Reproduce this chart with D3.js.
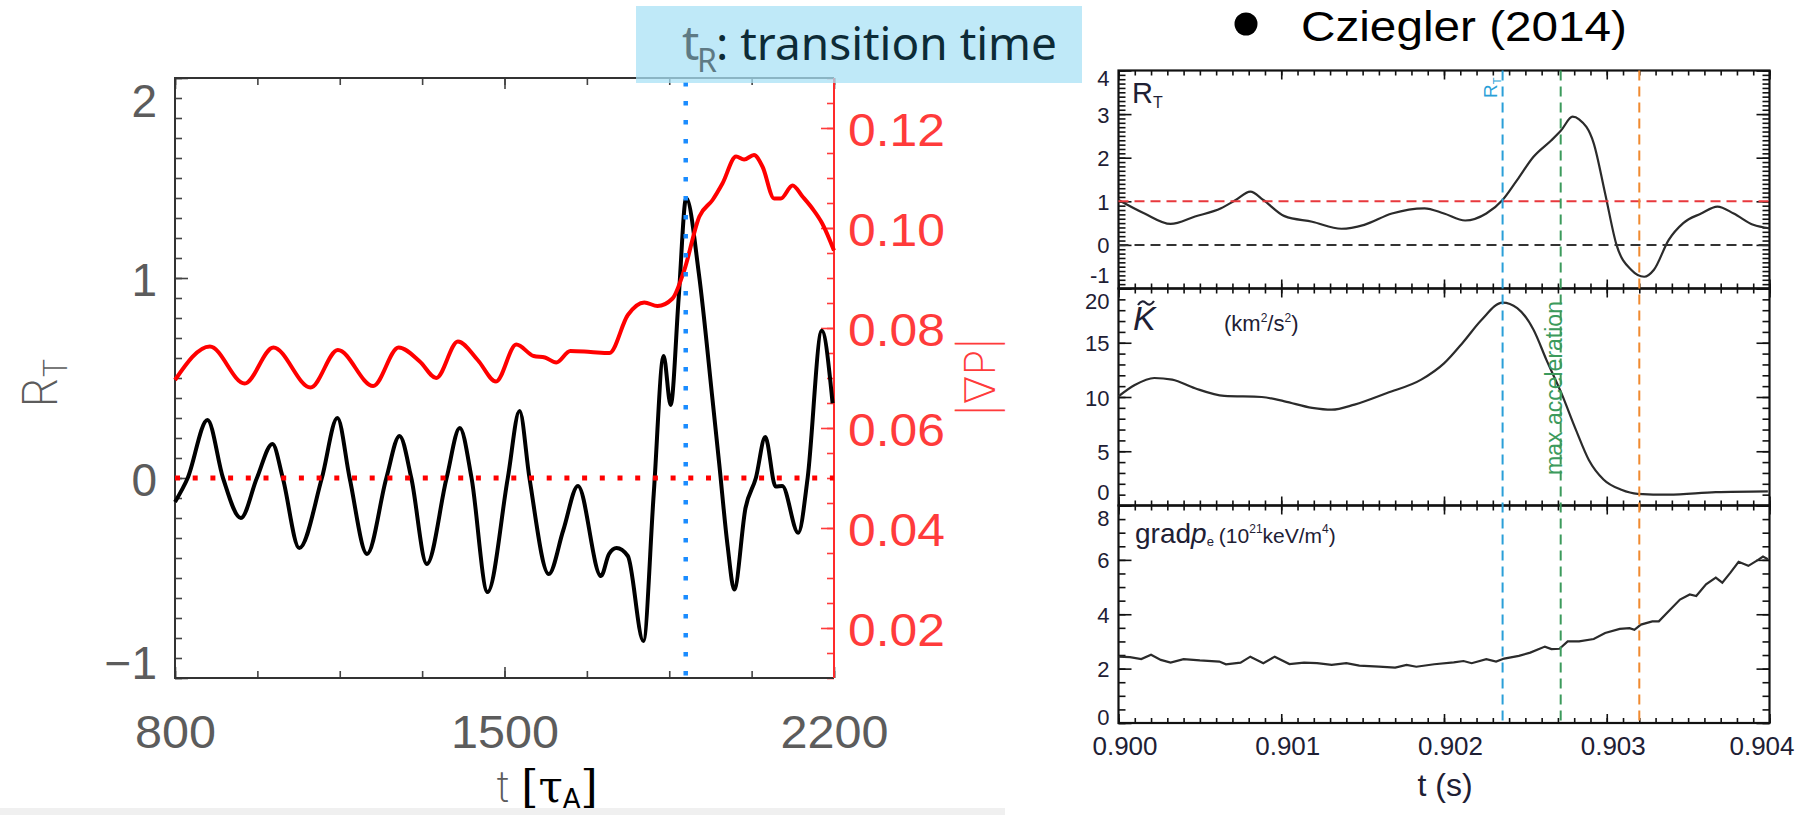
<!DOCTYPE html>
<html>
<head>
<meta charset="utf-8">
<script src="https://cdn.jsdelivr.net/npm/d3@7"></script>
<style>
body { margin: 0; background: #fff; }
svg { display: block; }
</style>
</head>
<body>
<svg id="fig" width="1795" height="815"></svg>
<script>
// Panel izquierdo: R_T (eje izquierdo) y |grad P| (eje derecho, rojo) frente a t [tau_A]
var tauRT = [800, 827, 869, 902, 940, 974, 1007, 1029, 1064, 1112, 1145, 1171, 1208, 1249, 1277, 1302, 1335, 1377, 1405, 1430,
	1464, 1507, 1532, 1553, 1594, 1625, 1656, 1705, 1722, 1738, 1762, 1795, 1817, 1838, 1853, 1870, 1886, 1913, 1942, 1956,
	1974, 1988, 2012, 2034, 2054, 2076, 2090, 2124, 2144, 2174, 2197];
var valRT = [-0.12, 0.0, 0.29, 0.0, -0.20, 0.0, 0.17, 0.0, -0.35, 0.0, 0.30, 0.0, -0.38, 0.0, 0.21, 0.0, -0.43, 0.0, 0.25, 0.0,
	-0.57, 0.0, 0.335, 0.0, -0.48, -0.26, -0.04, -0.49, -0.38, -0.35, -0.39, -0.815, -0.08, 0.61, 0.365, 0.90, 1.40, 1.02, 0.39, 0.075,
	-0.34, -0.557, -0.15, 0.0, 0.205, -0.043, -0.04, -0.274, 0.0, 0.736, 0.374];

var tauGP = [800, 874, 948, 1009, 1088, 1146, 1221, 1275, 1320, 1355, 1401, 1443, 1482, 1525, 1562, 1586, 1610, 1640, 1683, 1723,
	1762, 1797, 1825, 1857, 1882, 1914, 1942, 1963, 1992, 2009, 2030, 2048, 2073, 2087, 2112, 2133, 2154, 2175, 2200];
var valGP = [0.0696, 0.0763, 0.0689, 0.0761, 0.0681, 0.0756, 0.0684, 0.0761, 0.0733, 0.0700, 0.0773, 0.0736, 0.0693, 0.0767, 0.0744, 0.0741, 0.0731, 0.0754, 0.0752, 0.0750,
	0.0826, 0.0851, 0.0844, 0.0859, 0.0916, 0.1023, 0.1056, 0.1089, 0.1143, 0.1137, 0.1146, 0.1123, 0.1059, 0.1059, 0.1085, 0.1063, 0.1039, 0.1009, 0.0955];

var tauTicks = [800, 1500, 2200];
var rtTicks = [-1, 0, 1, 2];
var gpTicks = [0.02, 0.04, 0.06, 0.08, 0.10, 0.12];
var tR = 1885;

// Panel derecho: Cziegler (2014)
var czT1 = [0.90000, 0.90016, 0.90032, 0.90047, 0.90063, 0.90072, 0.90081, 0.90089, 0.90102, 0.90119, 0.90137, 0.90151, 0.90168,
	0.90188, 0.90200, 0.90213, 0.90226, 0.90236, 0.90245, 0.90255, 0.90266, 0.90272, 0.90279, 0.90283, 0.90292, 0.90299, 0.90306,
	0.90315, 0.90323, 0.90329, 0.90338, 0.90347, 0.90358, 0.90368, 0.90378, 0.90390, 0.90400];
var czRT = [1.03, 0.72, 0.48, 0.65, 0.84, 1.03, 1.22, 1.03, 0.66, 0.53, 0.37, 0.46, 0.72,
	0.84, 0.72, 0.56, 0.72, 1.03, 1.49, 2.02, 2.40, 2.63, 2.94, 2.88, 2.33, 1.18, 0.0,
	-0.57, -0.73, -0.57, 0.11, 0.50, 0.72, 0.88, 0.72, 0.46, 0.38];

var czT2 = [0.90000, 0.90010, 0.90022, 0.90033, 0.90047, 0.90065, 0.90088, 0.90102, 0.90119, 0.90131, 0.90145, 0.90165, 0.90186,
	0.90200, 0.90212, 0.90223, 0.90236, 0.90245, 0.90255, 0.90263, 0.90272, 0.90281, 0.90289, 0.90298, 0.90309, 0.90319, 0.90338,
	0.90367, 0.90399];
var czK = [10.06, 11.1, 11.75, 11.6, 10.8, 10.1, 10.0, 9.6, 9.0, 8.83, 9.3, 10.37, 11.6,
	13.1, 15.1, 17.1, 18.7, 18.2, 16.2, 13.4, 10.4, 7.0, 4.2, 2.4, 1.45, 1.08, 1.0,
	1.23, 1.3];

var czT3 = [0.90000, 0.90007, 0.90014, 0.90020, 0.90026, 0.90032, 0.90040, 0.90050, 0.90062, 0.90066, 0.90075, 0.90081, 0.90089,
	0.90096, 0.90105, 0.90114, 0.90122, 0.90131, 0.90140, 0.90148, 0.90160, 0.90170, 0.90177, 0.90183, 0.90194, 0.90206, 0.90212,
	0.90217, 0.90226, 0.90232, 0.90237, 0.90246, 0.90253, 0.90262, 0.90266, 0.90271, 0.90276, 0.90283, 0.90292, 0.90299, 0.90308,
	0.90314, 0.90317, 0.90321, 0.90328, 0.90332, 0.90338, 0.90345, 0.90351, 0.90355, 0.90361, 0.90367, 0.90371, 0.90376, 0.90381,
	0.90387, 0.90393, 0.90396, 0.90399];
var czGrad = [2.44, 2.42, 2.35, 2.51, 2.32, 2.22, 2.35, 2.30, 2.26, 2.16, 2.22, 2.44, 2.20,
	2.44, 2.17, 2.22, 2.20, 2.14, 2.20, 2.11, 2.07, 2.04, 2.14, 2.07, 2.16, 2.23, 2.28,
	2.20, 2.35, 2.26, 2.37, 2.47, 2.59, 2.81, 2.72, 2.73, 3.00, 3.00, 3.09, 3.31, 3.46,
	3.49, 3.43, 3.62, 3.74, 3.74, 4.11, 4.54, 4.73, 4.67, 5.10, 5.35, 5.16, 5.53, 5.93,
	5.78, 6.00, 6.12, 6.02];

var czTicks = [0.900, 0.901, 0.902, 0.903, 0.904];
var czMarks = [0.90236, 0.902717, 0.90320];   // R_T, max acceleration, y la naranja

var svg = d3.select("#fig");

// quita la línea del eje, el marco se dibuja aparte
function drawAxis(g, axis) {
	g.call(axis);
	g.select(".domain").remove();
	return g;
}

// franja gris inferior (va debajo del título del eje)
svg.append("rect").attr("x", 0).attr("y", 808).attr("width", 1005).attr("height", 7).attr("fill", "#f0f0f0");

// ================= panel izquierdo =================
var x = d3.scaleLinear().domain([800, 2200]).range([175, 834]);
var yL = d3.scaleLinear().domain([-1, 2]).range([678, 78]);
var yR = d3.scaleLinear().domain([0.01, 0.13]).range([678, 78]);

var left = svg.append("g")
	.attr("font-family", "Inter, DejaVu Sans, sans-serif")
	.attr("font-weight", 200);

var gray = "#5c5c5c";
var red = "#ff3b3b";

// eje izquierdo R_T
drawAxis(left.append("g").attr("transform", "translate(175,0)"),
	d3.axisLeft(yL).tickValues(d3.range(-1, 2.001, 0.1)).tickSizeInner(-7).tickSizeOuter(0).tickFormat(""));
var gl = drawAxis(left.append("g").attr("transform", "translate(175,0)"),
	d3.axisLeft(yL).tickValues(rtTicks).tickSizeInner(-13).tickSizeOuter(0).tickPadding(18).tickFormat(d3.format("d")));
gl.selectAll("text")
	.attr("font-size", 46)
	.attr("fill", gray)
	.attr("y", function(d) { return d == 2 ? 24 : (d == -1 ? -14 : 3); });

// eje derecho |grad P|
var gr1 = drawAxis(left.append("g").attr("transform", "translate(834,0)"),
	d3.axisRight(yR).tickValues(d3.range(0.01, 0.1301, 0.005)).tickSizeInner(-7).tickSizeOuter(0).tickFormat(""));
var gr = drawAxis(left.append("g").attr("transform", "translate(834,0)"),
	d3.axisRight(yR).tickValues(gpTicks).tickSizeInner(-13).tickSizeOuter(0).tickPadding(14).tickFormat(d3.format(".2f")));
gr.selectAll("text")
	.attr("font-size", 46)
	.attr("fill", red)
	.attr("y", 3)
	.attr("textLength", 97)
	.attr("lengthAdjust", "spacingAndGlyphs");

// ejes superior e inferior
[[78, d3.axisTop], [678, d3.axisBottom]].forEach(function(a) {
	drawAxis(left.append("g").attr("transform", "translate(0," + a[0] + ")"),
		a[1](x).tickValues(d3.range(800, 2201, 175)).tickSizeInner(-7).tickSizeOuter(0).tickFormat(""));
	drawAxis(left.append("g").attr("transform", "translate(0," + a[0] + ")"),
		a[1](x).tickValues(tauTicks).tickSizeInner(-11).tickSizeOuter(0).tickFormat(""));
});
var gb = drawAxis(left.append("g").attr("transform", "translate(0,678)"),
	d3.axisBottom(x).tickValues(tauTicks).tickSize(0).tickFormat(d3.format("d")));
gb.selectAll("text")
	.attr("font-size", 46)
	.attr("fill", gray)
	.attr("y", 70)
	.attr("dy", 0)
	.attr("textLength", function(d) { return String(d).length * 27; })
	.attr("lengthAdjust", "spacingAndGlyphs");

left.selectAll(".tick line").attr("stroke", "#444").attr("stroke-width", 1.6);
gr.selectAll(".tick line").attr("stroke", red);
gr1.selectAll(".tick line").attr("stroke", red);

// marco
left.append("path")
	.attr("d", "M834,78 H175 V678 H834")
	.attr("fill", "none").attr("stroke", "#333").attr("stroke-width", 2);
left.append("line")
	.attr("x1", 834).attr("x2", 834).attr("y1", 78).attr("y2", 678)
	.attr("stroke", "#ff2a2a").attr("stroke-width", 2);

// curvas
var lineRT = d3.line()
	.x(function(d, i) { return x(tauRT[i]); })
	.y(function(d) { return yL(d); })
	.curve(d3.curveMonotoneX);
left.append("path").attr("d", lineRT(valRT))
	.attr("fill", "none").attr("stroke", "#000").attr("stroke-width", 4);

var lineGP = d3.line()
	.x(function(d, i) { return x(tauGP[i]); })
	.y(function(d) { return yR(d); })
	.curve(d3.curveMonotoneX);
left.append("path").attr("d", lineGP(valGP))
	.attr("fill", "none").attr("stroke", "#ff0000").attr("stroke-width", 4);

// líneas punteadas: R_T = 0 y t_R
left.append("line")
	.attr("x1", x(800)).attr("x2", x(2200)).attr("y1", yL(0)).attr("y2", yL(0))
	.attr("stroke", "#ff0000").attr("stroke-width", 5).attr("stroke-dasharray", "5,12.7");
left.append("line")
	.attr("x1", x(tR)).attr("x2", x(tR)).attr("y1", yL(2) + 4).attr("y2", yL(-1))
	.attr("stroke", "#1a8cff").attr("stroke-width", 4.5).attr("stroke-dasharray", "4.5,14.5");

// títulos de ejes
left.append("text")
	.attr("transform", "translate(57,383) rotate(-90)")
	.attr("text-anchor", "middle")
	.attr("font-size", 48).attr("fill", gray)
	.html('R<tspan font-size="32" dy="10">T</tspan>');

left.append("text")
	.attr("transform", "translate(995,377) rotate(-90)")
	.attr("text-anchor", "middle")
	.attr("font-size", 42).attr("fill", red)
	.text("|\u2207P|");

var xt = left.append("text").attr("x", 497).attr("y", 802).attr("font-size", 44);
xt.append("tspan").attr("fill", gray).text("t ");
xt.append("tspan").attr("fill", "#000").attr("font-weight", 400).attr("font-family", "DejaVu Serif").text("[\u03c4");
xt.append("tspan").attr("fill", "#000").attr("font-weight", 400).attr("font-family", "DejaVu Sans").attr("font-size", 26).attr("dy", 6).text("A");
xt.append("tspan").attr("fill", "#000").attr("font-weight", 400).attr("font-family", "DejaVu Serif").attr("dy", -6).text("]");

// recuadro t_R
svg.append("rect")
	.attr("x", 636).attr("y", 6).attr("width", 446).attr("height", 77)
	.attr("fill", "#a9e1f6").attr("opacity", 0.75);
var box = svg.append("g").attr("font-family", "Noto Sans");
box.append("text").attr("x", 682).attr("y", 60).attr("font-size", 48).attr("fill", "#5e7a84").text("t");
box.append("text").attr("x", 697).attr("y", 72).attr("font-size", 32).attr("fill", "#5e7a84").text("R");
box.append("text").attr("x", 716).attr("y", 60).attr("font-size", 46).attr("fill", "#0d2b36")
	.attr("textLength", 341).attr("lengthAdjust", "spacingAndGlyphs").text(": transition time");

// ================= panel derecho =================
var xc = d3.scaleLinear().domain([0.900, 0.904]).range([1118.5, 1769.5]);
var panels = [
	{ y: d3.scaleLinear().domain([-1, 4]).range([288.5, 70.5]), major: 1, minor: 0.1, t: czT1, v: czRT, curve: d3.curveMonotoneX },
	{ y: d3.scaleLinear().domain([0, 20]).range([505.5, 288.5]), major: 5, minor: 1, t: czT2, v: czK, curve: d3.curveMonotoneX },
	{ y: d3.scaleLinear().domain([0, 8]).range([723, 505.5]), major: 2, minor: 0.5, t: czT3, v: czGrad, curve: d3.curveLinear }
];

var right = svg.append("g").attr("font-family", "Liberation Sans, Arial, sans-serif");
var ink = "#1e2034";

panels.forEach(function(p, k) {
	var d0 = p.y.domain()[0], d1 = p.y.domain()[1];
	var yTop = p.y.range()[1], yBot = p.y.range()[0];
	var minorV = d3.range(d0, d1 + 1e-6, p.minor);
	var majorV = d3.range(d0, d1 + 1e-6, p.major);

	drawAxis(right.append("g").attr("transform", "translate(1118.5,0)"),
		d3.axisLeft(p.y).tickValues(minorV).tickSizeInner(-7).tickSizeOuter(0).tickFormat(""));
	var ya = drawAxis(right.append("g").attr("transform", "translate(1118.5,0)"),
		d3.axisLeft(p.y).tickValues(majorV).tickSizeInner(-13).tickSizeOuter(0).tickPadding(9)
			.tickFormat(function(d) { return String(Math.round(d)); }));
	// las etiquetas de los extremos se meten hacia dentro para no pisarse entre paneles
	ya.selectAll("text")
		.attr("font-size", 22).attr("fill", ink)
		.attr("y", function(d) {
			if (d == d1) return k == 0 ? 8 : 13;
			if (d == d0) return k == 2 ? -6 : -13;
			return 1;
		});
	drawAxis(right.append("g").attr("transform", "translate(1769.5,0)"),
		d3.axisRight(p.y).tickValues(minorV).tickSizeInner(-7).tickSizeOuter(0).tickFormat(""));
	drawAxis(right.append("g").attr("transform", "translate(1769.5,0)"),
		d3.axisRight(p.y).tickValues(majorV).tickSizeInner(-13).tickSizeOuter(0).tickFormat(""));

	[[yTop, d3.axisTop], [yBot, d3.axisBottom]].forEach(function(a) {
		drawAxis(right.append("g").attr("transform", "translate(0," + a[0] + ")"),
			a[1](xc).tickValues(d3.range(0.9, 0.90401, 0.0001)).tickSizeInner(-5).tickSizeOuter(0).tickFormat(""));
		drawAxis(right.append("g").attr("transform", "translate(0," + a[0] + ")"),
			a[1](xc).tickValues(czTicks).tickSizeInner(-9).tickSizeOuter(0).tickFormat(""));
	});

	right.append("rect")
		.attr("x", 1118.5).attr("y", yTop).attr("width", 1769.5 - 1118.5).attr("height", yBot - yTop)
		.attr("fill", "none").attr("stroke", "#111").attr("stroke-width", 2.2);

	var ln = d3.line()
		.x(function(d, i) { return xc(p.t[i]); })
		.y(function(d) { return p.y(d); })
		.curve(p.curve);
	right.append("path").attr("d", ln(p.v))
		.attr("fill", "none").attr("stroke", "#2b2b2b").attr("stroke-width", 2.2);
});
right.selectAll(".tick line").attr("stroke", "#111").attr("stroke-width", 1.6);

// etiquetas del eje x
var gx = drawAxis(right.append("g").attr("transform", "translate(0,723)"),
	d3.axisBottom(xc).tickValues(czTicks).tickSize(0).tickFormat(d3.format(".3f")));
gx.selectAll("text")
	.attr("font-size", 26).attr("fill", ink)
	.attr("y", 32).attr("dy", 0)
	.attr("x", function(d) { return d >= 0.904 ? -8 : 6; });

// líneas de referencia horizontales
var yT = panels[0].y;
right.append("line").attr("x1", 1118.5).attr("x2", 1769.5).attr("y1", yT(1)).attr("y2", yT(1))
	.attr("stroke", "#e8383d").attr("stroke-width", 2).attr("stroke-dasharray", "10,6");
right.append("line").attr("x1", 1118.5).attr("x2", 1769.5).attr("y1", yT(0)).attr("y2", yT(0))
	.attr("stroke", "#333").attr("stroke-width", 2).attr("stroke-dasharray", "10,6");

// líneas de referencia verticales
var markColors = ["#2a9fd8", "#3c9a5c", "#f08a30"];
czMarks.forEach(function(m, i) {
	right.append("line").attr("x1", xc(m)).attr("x2", xc(m)).attr("y1", 70.5).attr("y2", 723)
		.attr("stroke", markColors[i]).attr("stroke-width", 2).attr("stroke-dasharray", "10,6");
});

// textos del panel derecho
right.append("text").attr("x", 1132).attr("y", 103).attr("font-size", 29).attr("fill", ink)
	.html('R<tspan font-size="16" dy="5">T</tspan>');
// tilde sobre la K
right.append("path").attr("d", "M1138,305 q4,-6 8,-2 t8,-2")
	.attr("fill", "none").attr("stroke", ink).attr("stroke-width", 2.2);
right.append("text").attr("x", 1133).attr("y", 330).attr("font-size", 34).attr("font-style", "italic").attr("fill", ink).text("K");
right.append("text").attr("x", 1224).attr("y", 331).attr("font-size", 22).attr("fill", ink)
	.html('(km<tspan font-size="12" dy="-9">2</tspan><tspan dy="9">/s</tspan><tspan font-size="12" dy="-9">2</tspan><tspan dy="9">)</tspan>');
right.append("text").attr("x", 1135).attr("y", 543).attr("font-size", 28).attr("fill", ink)
	.html('grad<tspan font-style="italic">p</tspan><tspan font-size="13" dy="3">e</tspan>' +
		'<tspan font-size="21" dx="5" dy="-3">(10</tspan><tspan font-size="12" dy="-10">21</tspan>' +
		'<tspan font-size="21" dy="10">keV/m</tspan><tspan font-size="12" dy="-10">4</tspan><tspan font-size="21" dy="10">)</tspan>');
right.append("text")
	.attr("transform", "translate(1562,388) rotate(-90)")
	.attr("text-anchor", "middle").attr("font-size", 23).attr("fill", "#3c9a5c")
	.text("max acceleration");
right.append("text")
	.attr("transform", "translate(1497,98) rotate(-90)")
	.attr("font-size", 19).attr("fill", "#2a9fd8")
	.html('R<tspan font-size="11" dy="4">T</tspan>');

right.append("text").attr("x", 1445).attr("y", 796).attr("text-anchor", "middle")
	.attr("font-size", 32).attr("fill", ink).text("t (s)");

// título
svg.append("circle").attr("cx", 1246).attr("cy", 24).attr("r", 11.5).attr("fill", "#000");
svg.append("text").attr("x", 1301).attr("y", 41).attr("font-family", "Liberation Sans, Arial, sans-serif")
	.attr("font-size", 43).attr("textLength", 326).attr("lengthAdjust", "spacingAndGlyphs")
	.attr("fill", "#000").text("Cziegler (2014)");
</script>
</body>
</html>
